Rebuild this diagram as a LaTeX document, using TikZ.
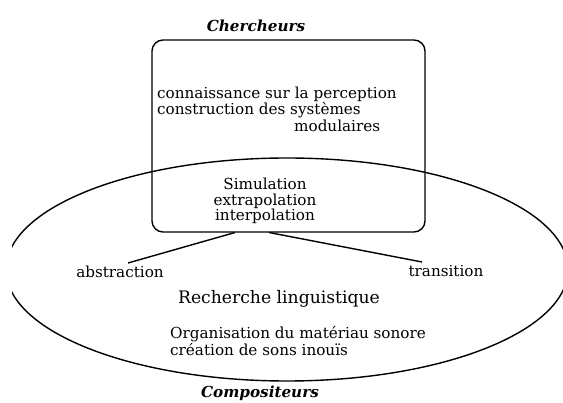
\documentclass[tikz,border=0pt]{standalone}
\usepackage{fontspec}
\setmainfont{DejaVu Serif}
\begin{document}
\begin{tikzpicture}[x=1pt,y=-1pt,
  txt/.style={inner sep=0pt,font=\fontsize{15.2}{15.5}\selectfont},
  ttl/.style={inner sep=0pt,font=\fontsize{15.2}{17}\selectfont\bfseries\itshape},
  shp/.style={draw,line width=1.4pt}]
\useasboundingbox (0,0) rectangle (563,403);
\begin{scope}
\clip (12,0) rectangle (563,403);
\draw[shp] (287,269.5) ellipse [x radius=281, y radius=111.5];
\end{scope}
\node[shp,rounded corners=11pt,minimum width=273pt,minimum height=192pt,inner sep=0pt] (box) at (288.5,136) {};
\node[ttl] (cher) at (256,26) {Chercheurs};
\node[ttl] (comp) at (260,393) {Compositeurs};
\node[txt,anchor=west,align=left] (k1) at (157,102.5) {connaissance sur la perception\\construction des systèmes};
\node[txt,anchor=west] (k2) at (294,126) {modulaires};
\node[txt,align=center] (sim) at (265,201) {Simulation\\extrapolation\\interpolation};
\node[txt] (abs) at (120,272) {abstraction};
\node[txt] (tra) at (446,271) {transition};
\node[inner sep=0pt,font=\fontsize{17.2}{19}\selectfont] (rl) at (279,299) {Recherche linguistique};
\node[txt,anchor=west,align=left] (org) at (170,341) {Organisation du matériau sonore\\création de sons inouïs};
\coordinate (b1) at (235,232.5);
\coordinate (b2) at (269,232.5);
\coordinate (a2) at (128,263);
\coordinate (t2) at (422,262);
\draw[line width=1.4pt] (b1) -- (a2);
\draw[line width=1.4pt] (b2) -- (t2);
\end{tikzpicture}
\end{document}
